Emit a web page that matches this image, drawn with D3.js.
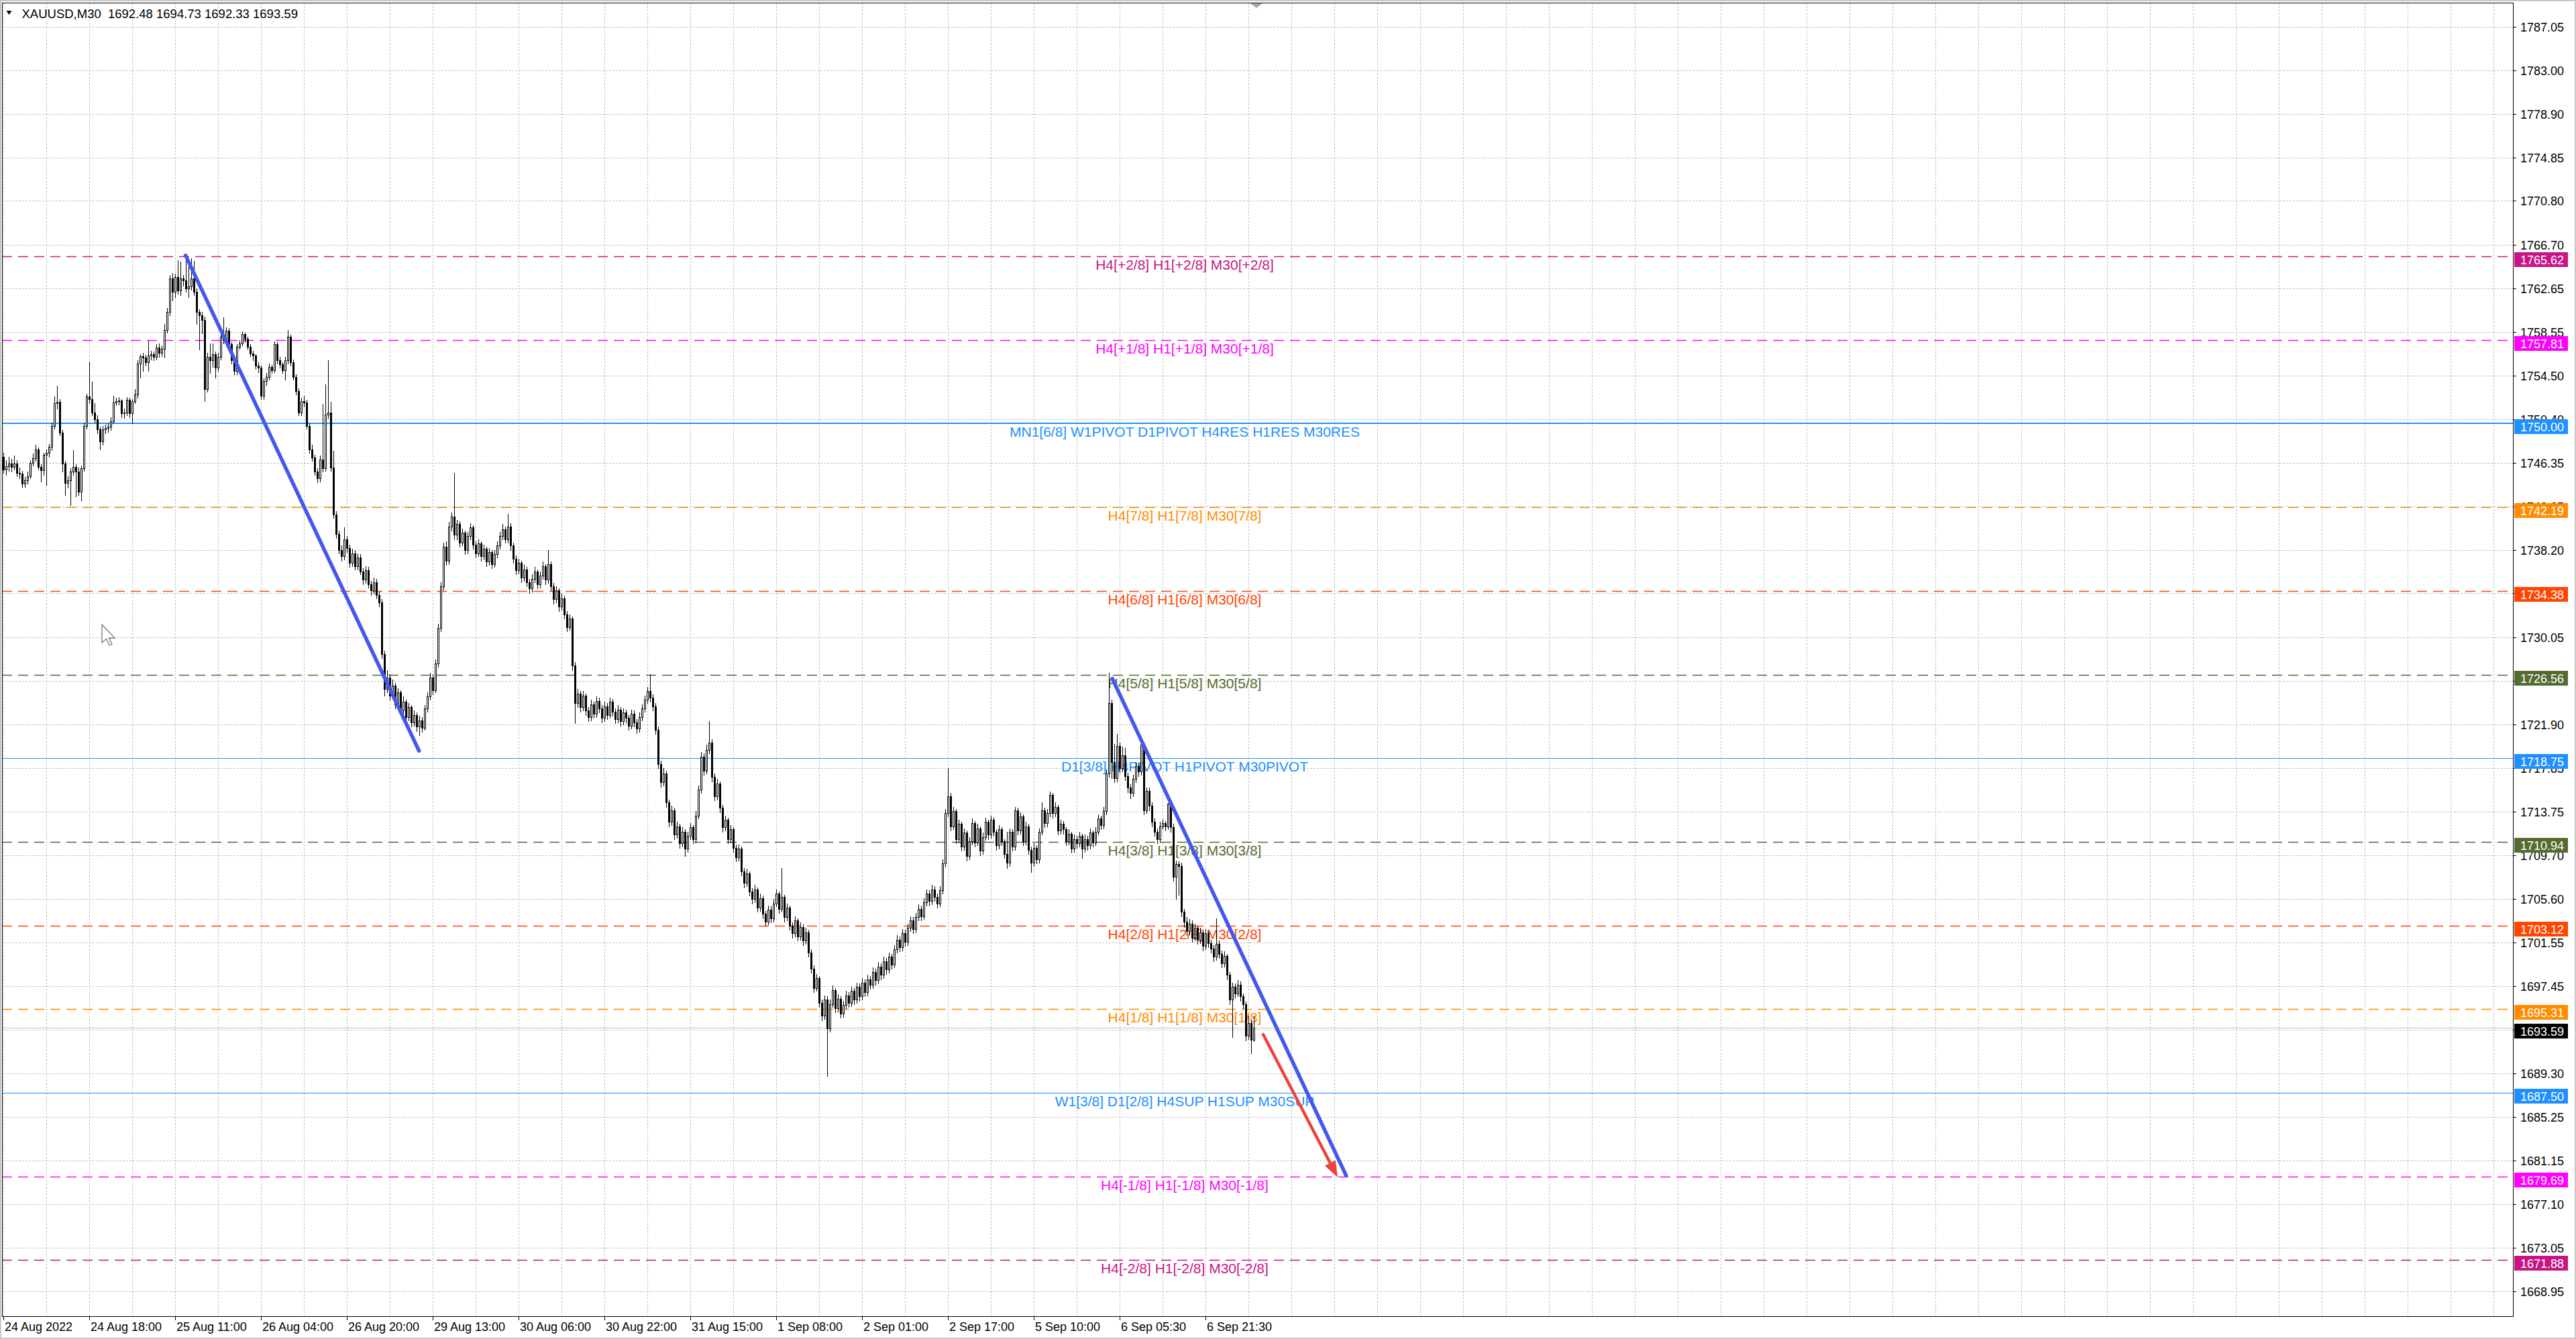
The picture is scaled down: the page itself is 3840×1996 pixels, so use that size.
<!DOCTYPE html>
<html><head><meta charset="utf-8">
<script src="https://cdn.jsdelivr.net/npm/d3@7"></script>
<style>html,body{margin:0;padding:0;background:#fff;overflow:hidden}svg{display:block}</style>
</head><body>
<svg id="chart" width="3840" height="1996"></svg>
<script>
// ---------------- DATA ----------------
const symbolTitle = "XAUUSD,M30";
const lastOHLC = ["1692.48", "1694.73", "1692.33", "1693.59"];

const opens = [
1746.87,1745.72,1746.04,1746.25,1745.93,1746.25,1745.41,1745.30,1744.37,1744.68,
1745.10,1746.35,1746.77,1747.60,1745.93,1745.62,1747.08,1747.29,1747.81,1749.80,
1751.88,1752.00,1749.17,1746.25,1744.47,1744.68,1745.51,1745.93,1745.50,1743.64,
1745.83,1749.80,1752.51,1752.30,1751.05,1750.42,1749.48,1748.33,1749.48,1749.59,
1749.69,1750.21,1751.99,1752.09,1752.15,1750.94,1751.05,1752.20,1750.94,1752.09,
1752.72,1755.60,1756.27,1756.15,1755.73,1756.36,1756.46,1756.25,1757.09,1756.60,
1757.00,1758.76,1760.43,1763.56,1762.31,1763.67,1762.41,1763.56,1763.35,1762.62,
1762.83,1763.56,1762.31,1760.43,1760.12,1759.70,1753.23,1756.25,1755.94,1756.46,
1755.21,1756.25,1758.13,1757.82,1758.65,1757.40,1755.94,1754.90,1757.19,1757.51,
1758.34,1757.92,1757.19,1756.57,1756.36,1755.42,1755.21,1752.60,1753.96,1754.37,
1755.31,1755.00,1757.40,1755.94,1755.52,1755.00,1755.90,1758.13,1755.73,1754.37,
1753.02,1751.03,1752.08,1751.97,1749.78,1747.59,1746.86,1745.50,1744.87,1746.65,
1745.81,1750.82,1751.03,1745.92,1741.50,1739.70,1738.20,1737.60,1739.20,1738.40,
1737.00,1737.90,1736.70,1737.50,1736.20,1735.40,1736.30,1735.00,1734.40,1735.20,
1734.00,1733.30,1728.50,1725.20,1726.30,1724.60,1725.50,1723.80,1724.90,1723.20,
1724.00,1722.60,1723.50,1722.10,1722.80,1721.70,1722.30,1721.60,1723.40,1724.50,
1726.30,1725.10,1727.60,1730.90,1734.80,1738.50,1737.20,1740.40,1741.30,1739.60,
1740.60,1738.90,1739.80,1738.20,1739.50,1740.30,1738.70,1737.90,1738.80,1737.60,
1738.30,1737.10,1738.00,1736.90,1737.80,1738.60,1739.50,1740.10,1739.20,1740.40,
1738.60,1737.40,1736.30,1737.00,1735.60,1736.40,1735.20,1734.60,1735.50,1736.20,
1735.00,1735.80,1736.70,1735.40,1736.90,1734.80,1733.60,1734.40,1732.90,1733.70,
1732.20,1731.00,1731.80,1727.40,1723.90,1724.80,1723.50,1724.60,1723.20,1722.60,
1723.80,1722.90,1724.10,1723.40,1722.50,1723.60,1722.80,1724.00,1723.10,1722.40,
1723.30,1722.20,1723.00,1722.50,1721.80,1722.90,1722.10,1721.50,1722.60,1723.40,
1724.20,1725.00,1724.40,1723.60,1721.40,1718.20,1716.50,1717.30,1714.60,1712.80,
1713.90,1711.60,1712.40,1710.80,1711.90,1710.30,1711.50,1712.30,1711.20,1713.40,
1715.80,1718.90,1717.60,1719.50,1720.20,1717.00,1715.20,1716.40,1714.10,1712.30,
1713.00,1711.20,1712.10,1710.40,1709.50,1710.30,1708.20,1707.10,1708.00,1706.30,
1705.60,1706.50,1704.80,1705.70,1704.20,1703.50,1704.60,1703.80,1705.20,1706.10,
1704.70,1705.80,1703.90,1704.80,1703.10,1702.40,1703.60,1702.10,1703.00,1701.70,
1702.50,1700.60,1699.10,1697.30,1698.20,1695.90,1694.70,1696.20,1693.50,1695.80,
1697.10,1695.40,1696.30,1694.90,1695.70,1696.60,1695.90,1697.00,1696.20,1697.40,
1696.50,1697.80,1696.90,1698.10,1697.60,1698.80,1698.00,1699.30,1698.50,1699.80,
1699.00,1700.20,1699.50,1700.90,1701.80,1701.10,1702.40,1701.60,1702.90,1703.60,
1702.80,1703.90,1704.70,1704.00,1705.30,1706.10,1705.40,1706.50,1705.80,1705.20,
1706.40,1708.90,1713.60,1715.20,1712.40,1713.80,1711.20,1712.60,1710.50,1711.80,
1709.60,1711.00,1712.70,1710.90,1712.20,1710.10,1711.40,1712.80,1711.60,1713.00,
1711.90,1710.60,1712.10,1711.00,1709.80,1709.00,1711.90,1710.50,1713.90,1712.00,
1713.30,1711.00,1712.40,1710.20,1709.00,1710.40,1709.30,1711.90,1713.90,1712.70,
1713.60,1715.30,1713.60,1714.20,1712.00,1712.60,1712.10,1711.00,1711.70,1710.30,
1711.20,1710.80,1711.50,1710.30,1711.20,1710.60,1711.80,1710.90,1711.90,1713.10,
1712.50,1713.80,1717.30,1723.90,1718.40,1716.90,1719.90,1717.80,1719.00,1717.10,
1716.00,1715.50,1716.80,1718.00,1717.50,1720.00,1713.90,1715.70,1714.30,1712.80,
1711.90,1711.20,1712.40,1712.70,1712.40,1714.50,1712.30,1707.70,1708.85,1708.70,
1704.40,1703.50,1702.60,1703.30,1702.00,1702.90,1701.80,1702.50,1701.20,1702.40,
1701.50,1701.00,1700.20,1701.40,1700.50,1699.60,1700.30,1698.50,1696.20,1697.40,
1696.80,1697.60,1696.50,1695.80,1692.80,1694.00,1692.48];

const highs = [
1747.30,1746.60,1746.90,1746.70,1747.00,1746.60,1745.90,1745.60,1745.00,1745.50,
1746.60,1747.20,1748.02,1747.80,1746.20,1747.30,1747.60,1748.10,1750.10,1752.51,
1753.55,1752.30,1749.40,1746.50,1745.10,1745.80,1747.50,1746.20,1745.90,1746.10,
1750.10,1752.80,1755.81,1753.90,1751.90,1750.80,1749.70,1749.80,1749.90,1750.00,
1750.60,1752.61,1752.40,1752.50,1752.30,1751.40,1752.50,1752.40,1752.30,1753.20,
1755.90,1756.50,1756.60,1756.40,1757.71,1756.80,1756.70,1757.40,1757.50,1757.30,
1759.28,1760.80,1763.90,1764.08,1764.00,1765.23,1765.10,1763.90,1765.65,1764.70,
1765.45,1765.20,1762.60,1760.70,1760.40,1760.00,1756.60,1757.50,1757.50,1756.70,
1756.60,1758.40,1759.90,1759.00,1758.90,1757.60,1756.20,1757.40,1757.80,1758.60,
1758.50,1758.10,1757.40,1756.80,1756.50,1755.70,1755.40,1754.20,1754.70,1755.60,
1755.50,1757.70,1757.60,1756.20,1755.70,1756.20,1758.76,1758.30,1756.00,1754.60,
1753.30,1752.40,1752.60,1752.20,1750.00,1748.00,1747.10,1745.80,1747.00,1751.87,
1753.64,1755.90,1752.00,1747.48,1741.80,1740.00,1738.60,1740.30,1739.50,1738.70,
1738.30,1738.20,1737.90,1737.80,1736.50,1736.70,1736.60,1735.30,1735.60,1735.50,
1734.30,1733.60,1728.80,1727.00,1726.60,1726.10,1725.80,1725.30,1725.10,1724.50,
1724.20,1723.90,1723.70,1723.20,1723.00,1722.70,1722.60,1723.70,1724.90,1726.70,
1726.60,1728.00,1731.30,1735.20,1738.90,1739.00,1740.80,1741.70,1745.40,1741.00,
1740.90,1740.20,1740.00,1739.90,1740.70,1740.50,1739.00,1739.20,1739.00,1738.70,
1738.50,1738.40,1738.20,1738.20,1739.00,1739.90,1740.60,1740.40,1741.60,1740.70,
1738.90,1737.70,1737.40,1737.20,1736.80,1736.60,1735.50,1735.90,1736.60,1736.40,
1736.20,1737.10,1736.90,1738.20,1737.10,1735.10,1734.80,1734.60,1734.10,1733.90,
1732.50,1732.20,1732.00,1727.70,1725.20,1725.00,1725.00,1724.80,1723.50,1724.20,
1724.00,1724.50,1724.40,1723.70,1724.00,1723.90,1724.40,1724.30,1723.40,1723.70,
1723.50,1723.40,1723.30,1722.80,1723.30,1723.20,1722.40,1723.00,1723.80,1724.60,
1725.40,1726.60,1724.70,1723.90,1721.70,1718.50,1717.80,1717.60,1714.90,1714.30,
1714.10,1712.80,1712.60,1712.30,1712.10,1711.90,1712.70,1712.50,1713.80,1716.20,
1719.30,1719.20,1720.00,1722.20,1720.50,1717.30,1716.80,1716.60,1714.40,1713.40,
1713.20,1712.50,1712.30,1710.70,1710.70,1710.50,1708.50,1708.40,1708.20,1706.60,
1706.90,1706.70,1706.10,1705.90,1704.50,1705.00,1704.90,1705.60,1706.50,1706.30,
1708.50,1706.00,1705.20,1705.00,1703.40,1704.00,1703.80,1703.40,1703.20,1702.90,
1702.70,1700.90,1699.40,1698.60,1698.40,1696.20,1696.60,1696.50,1696.20,1697.50,
1697.30,1696.70,1696.50,1696.10,1697.00,1696.90,1697.40,1697.30,1697.80,1697.70,
1698.20,1698.10,1698.50,1698.40,1699.20,1699.10,1699.70,1699.60,1700.20,1700.10,
1700.60,1700.50,1701.30,1702.20,1702.10,1702.80,1702.70,1703.30,1704.00,1703.90,
1704.30,1705.10,1705.00,1705.70,1706.50,1706.40,1706.90,1706.80,1706.10,1706.80,
1709.30,1714.00,1717.80,1715.50,1714.20,1714.00,1713.00,1712.80,1712.20,1712.00,
1711.40,1713.10,1712.90,1712.60,1712.40,1711.80,1713.20,1713.00,1713.40,1713.20,
1712.10,1712.50,1712.30,1711.20,1711.90,1712.20,1712.10,1714.20,1714.10,1713.70,
1713.50,1712.80,1712.60,1710.50,1710.80,1710.60,1712.20,1714.60,1714.10,1714.00,
1715.64,1715.50,1714.60,1714.40,1713.00,1712.90,1712.30,1712.10,1711.90,1711.60,
1711.50,1711.90,1711.70,1711.60,1711.50,1712.20,1712.00,1712.30,1713.50,1713.40,
1714.20,1717.70,1726.70,1724.20,1720.10,1721.00,1720.20,1719.80,1719.70,1717.40,
1716.30,1717.20,1718.40,1718.30,1720.20,1720.13,1716.00,1716.00,1714.60,1713.10,
1712.20,1712.80,1713.00,1712.90,1714.59,1714.70,1712.60,1709.20,1709.10,1709.00,
1704.70,1703.90,1703.70,1703.60,1703.30,1703.10,1702.90,1702.70,1702.80,1702.60,
1701.80,1701.30,1703.80,1701.70,1700.80,1700.70,1700.50,1698.80,1697.80,1697.70,
1698.00,1697.90,1696.80,1696.00,1694.70,1694.30,1694.73];

const lows = [
1745.40,1745.20,1745.60,1745.50,1745.70,1745.10,1744.90,1744.05,1744.10,1744.40,
1744.90,1746.10,1746.50,1745.70,1744.57,1745.20,1744.26,1746.90,1747.50,1749.50,
1751.40,1748.90,1745.51,1743.32,1744.00,1742.38,1745.20,1743.22,1743.30,1742.80,
1745.60,1749.50,1751.90,1750.80,1750.10,1749.10,1747.60,1748.00,1749.10,1749.20,
1749.40,1750.00,1751.70,1751.80,1750.60,1750.50,1750.80,1750.60,1750.00,1751.90,
1752.40,1754.29,1754.90,1755.40,1754.90,1756.00,1755.90,1756.00,1756.20,1756.30,
1756.15,1758.50,1760.10,1761.50,1761.80,1762.10,1762.00,1762.90,1762.30,1761.80,
1762.50,1762.00,1759.28,1756.90,1758.40,1752.08,1753.00,1754.70,1755.30,1754.27,
1754.90,1756.00,1757.50,1757.50,1757.10,1755.60,1754.60,1754.60,1757.00,1757.30,
1757.60,1756.90,1756.30,1755.90,1755.10,1754.80,1752.29,1752.30,1753.60,1754.10,
1754.70,1754.80,1755.60,1755.20,1754.70,1754.10,1755.60,1755.40,1754.10,1752.70,
1750.80,1750.80,1751.60,1749.50,1747.30,1746.50,1745.20,1744.50,1744.60,1745.50,
1745.60,1750.50,1745.60,1741.20,1739.30,1737.90,1737.20,1737.30,1738.00,1736.60,
1736.70,1736.40,1736.40,1735.90,1735.00,1735.10,1734.70,1734.00,1734.10,1733.70,
1732.90,1728.10,1724.60,1724.90,1724.20,1724.30,1723.40,1723.50,1722.80,1722.90,
1722.20,1722.30,1721.70,1721.80,1721.30,1720.90,1721.20,1721.40,1723.10,1724.20,
1724.70,1724.90,1727.30,1730.60,1734.50,1736.80,1736.90,1740.00,1739.20,1739.20,
1738.50,1738.60,1737.80,1737.90,1739.20,1738.30,1737.50,1737.60,1737.20,1737.30,
1736.70,1736.80,1736.50,1736.60,1737.50,1738.30,1739.20,1738.90,1738.90,1738.20,
1737.00,1735.90,1736.00,1735.20,1735.30,1734.80,1734.20,1734.30,1735.20,1734.60,
1734.70,1735.50,1735.00,1735.10,1734.40,1733.20,1733.30,1732.50,1732.60,1731.80,
1730.60,1730.70,1727.00,1722.00,1723.50,1723.10,1723.20,1722.80,1722.20,1722.30,
1722.50,1722.60,1723.00,1722.10,1722.20,1722.40,1722.50,1722.70,1722.00,1722.10,
1721.80,1721.90,1722.10,1721.40,1721.50,1721.70,1721.10,1721.20,1722.30,1723.10,
1723.90,1724.00,1723.20,1721.00,1717.80,1716.10,1716.20,1714.20,1712.40,1712.50,
1711.20,1711.30,1710.40,1710.50,1709.60,1710.00,1711.20,1710.80,1710.90,1713.10,
1715.50,1717.20,1717.30,1719.20,1716.60,1714.80,1714.90,1713.70,1711.90,1712.00,
1710.80,1710.90,1710.00,1709.10,1709.20,1707.80,1706.70,1706.80,1705.90,1705.20,
1705.30,1704.40,1704.50,1703.80,1703.10,1703.20,1703.40,1703.50,1704.90,1704.30,
1704.40,1703.50,1703.60,1702.70,1702.00,1702.10,1701.70,1701.80,1701.30,1701.40,
1700.20,1698.70,1696.90,1697.00,1695.50,1694.30,1694.40,1689.10,1693.20,1695.50,
1695.00,1695.10,1694.50,1694.60,1695.40,1695.50,1695.60,1695.80,1695.90,1696.10,
1696.20,1696.50,1696.60,1697.20,1697.30,1697.60,1697.70,1698.10,1698.20,1698.60,
1698.70,1699.10,1699.20,1700.60,1700.70,1700.80,1701.20,1701.30,1702.60,1702.40,
1702.50,1703.60,1703.60,1703.70,1705.00,1705.00,1705.10,1705.40,1704.80,1704.90,
1706.10,1708.60,1713.30,1712.00,1712.10,1710.80,1710.90,1710.10,1710.20,1709.20,
1709.30,1710.70,1710.50,1710.60,1709.70,1709.80,1711.10,1711.20,1711.30,1711.50,
1710.20,1710.30,1710.60,1709.40,1708.50,1708.70,1710.10,1710.20,1711.60,1711.70,
1710.60,1710.70,1709.80,1708.10,1708.70,1708.90,1709.00,1711.60,1712.30,1712.40,
1713.30,1713.20,1713.30,1711.60,1711.70,1711.70,1710.60,1710.70,1709.90,1710.00,
1710.40,1710.50,1709.40,1710.00,1710.20,1710.30,1710.50,1710.60,1711.60,1712.10,
1712.20,1713.50,1717.00,1716.90,1716.50,1716.60,1717.40,1717.50,1716.70,1715.60,
1715.01,1715.20,1716.50,1717.10,1717.20,1713.50,1713.60,1713.90,1712.40,1711.50,
1710.80,1710.90,1712.10,1712.00,1712.10,1711.90,1707.30,1705.60,1706.00,1704.00,
1703.00,1702.20,1702.30,1701.60,1701.70,1701.40,1701.50,1700.80,1700.90,1701.10,
1700.60,1699.80,1699.90,1700.10,1699.20,1699.30,1698.10,1695.80,1692.70,1696.40,
1696.50,1696.10,1695.40,1692.40,1692.50,1691.20,1692.33];

const closes = [
1745.72,1746.04,1746.25,1745.93,1746.25,1745.41,1745.30,1744.37,1744.68,1745.10,
1746.35,1746.77,1747.60,1745.93,1745.62,1747.08,1747.29,1747.81,1749.80,1751.88,
1752.00,1749.17,1746.25,1744.47,1744.68,1745.51,1745.93,1745.50,1743.64,1745.83,
1749.80,1752.51,1752.30,1751.05,1750.42,1749.48,1748.33,1749.48,1749.59,1749.69,
1750.21,1751.99,1752.09,1752.15,1750.94,1751.05,1752.20,1750.94,1752.09,1752.72,
1755.60,1756.27,1756.15,1755.73,1756.36,1756.46,1756.25,1757.09,1756.60,1757.00,
1758.76,1760.43,1763.56,1762.31,1763.67,1762.41,1763.56,1763.35,1762.62,1762.83,
1763.56,1762.31,1760.43,1760.12,1759.70,1753.23,1756.25,1755.94,1756.46,1755.21,
1756.25,1758.13,1757.82,1758.65,1757.40,1755.94,1754.90,1757.19,1757.51,1758.34,
1757.92,1757.19,1756.57,1756.36,1755.42,1755.21,1752.60,1753.96,1754.37,1755.31,
1755.00,1757.40,1755.94,1755.52,1755.00,1755.90,1758.13,1755.73,1754.37,1753.02,
1751.03,1752.08,1751.97,1749.78,1747.59,1746.86,1745.50,1744.87,1746.65,1745.81,
1750.82,1751.03,1745.92,1741.50,1739.70,1738.20,1737.60,1739.20,1738.40,1737.00,
1737.90,1736.70,1737.50,1736.20,1735.40,1736.30,1735.00,1734.40,1735.20,1734.00,
1733.30,1728.50,1725.20,1726.30,1724.60,1725.50,1723.80,1724.90,1723.20,1724.00,
1722.60,1723.50,1722.10,1722.80,1721.70,1722.30,1721.60,1723.40,1724.50,1726.30,
1725.10,1727.60,1730.90,1734.80,1738.50,1737.20,1740.40,1741.30,1739.60,1740.60,
1738.90,1739.80,1738.20,1739.50,1740.30,1738.70,1737.90,1738.80,1737.60,1738.30,
1737.10,1738.00,1736.90,1737.80,1738.60,1739.50,1740.10,1739.20,1740.40,1738.60,
1737.40,1736.30,1737.00,1735.60,1736.40,1735.20,1734.60,1735.50,1736.20,1735.00,
1735.80,1736.70,1735.40,1736.90,1734.80,1733.60,1734.40,1732.90,1733.70,1732.20,
1731.00,1731.80,1727.40,1723.90,1724.80,1723.50,1724.60,1723.20,1722.60,1723.80,
1722.90,1724.10,1723.40,1722.50,1723.60,1722.80,1724.00,1723.10,1722.40,1723.30,
1722.20,1723.00,1722.50,1721.80,1722.90,1722.10,1721.50,1722.60,1723.40,1724.20,
1725.00,1724.40,1723.60,1721.40,1718.20,1716.50,1717.30,1714.60,1712.80,1713.90,
1711.60,1712.40,1710.80,1711.90,1710.30,1711.50,1712.30,1711.20,1713.40,1715.80,
1718.90,1717.60,1719.50,1720.20,1717.00,1715.20,1716.40,1714.10,1712.30,1713.00,
1711.20,1712.10,1710.40,1709.50,1710.30,1708.20,1707.10,1708.00,1706.30,1705.60,
1706.50,1704.80,1705.70,1704.20,1703.50,1704.60,1703.80,1705.20,1706.10,1704.70,
1705.80,1703.90,1704.80,1703.10,1702.40,1703.60,1702.10,1703.00,1701.70,1702.50,
1700.60,1699.10,1697.30,1698.20,1695.90,1694.70,1696.20,1693.50,1695.80,1697.10,
1695.40,1696.30,1694.90,1695.70,1696.60,1695.90,1697.00,1696.20,1697.40,1696.50,
1697.80,1696.90,1698.10,1697.60,1698.80,1698.00,1699.30,1698.50,1699.80,1699.00,
1700.20,1699.50,1700.90,1701.80,1701.10,1702.40,1701.60,1702.90,1703.60,1702.80,
1703.90,1704.70,1704.00,1705.30,1706.10,1705.40,1706.50,1705.80,1705.20,1706.40,
1708.90,1713.60,1715.20,1712.40,1713.80,1711.20,1712.60,1710.50,1711.80,1709.60,
1711.00,1712.70,1710.90,1712.20,1710.10,1711.40,1712.80,1711.60,1713.00,1711.90,
1710.60,1712.10,1711.00,1709.80,1709.00,1711.90,1710.50,1713.90,1712.00,1713.30,
1711.00,1712.40,1710.20,1709.00,1710.40,1709.30,1711.90,1713.90,1712.70,1713.60,
1715.30,1713.60,1714.20,1712.00,1712.60,1712.10,1711.00,1711.70,1710.30,1711.20,
1710.80,1711.50,1710.30,1711.20,1710.60,1711.80,1710.90,1711.90,1713.10,1712.50,
1713.80,1717.30,1723.90,1718.40,1716.90,1719.90,1717.80,1719.00,1717.10,1716.00,
1715.50,1716.80,1718.00,1717.50,1720.00,1713.90,1715.70,1714.30,1712.80,1711.90,
1711.20,1712.40,1712.70,1712.40,1714.50,1712.30,1707.70,1708.85,1708.70,1704.40,
1703.50,1702.60,1703.30,1702.00,1702.90,1701.80,1702.50,1701.20,1702.40,1701.50,
1701.00,1700.20,1701.40,1700.50,1699.60,1700.30,1698.50,1696.20,1697.40,1696.80,
1697.60,1696.50,1695.80,1692.80,1694.00,1692.48,1693.59];

const timeLabels = ["24 Aug 2022","24 Aug 18:00","25 Aug 11:00","26 Aug 04:00","26 Aug 20:00",
  "29 Aug 13:00","30 Aug 06:00","30 Aug 22:00","31 Aug 15:00","1 Sep 08:00","2 Sep 01:00",
  "2 Sep 17:00","5 Sep 10:00","6 Sep 05:30","6 Sep 21:30"];
const timeLabelBars = [0,32,64,96,128,160,192,224,256,288,320,352,384,416,448];

const priceTicks = [1787.05,1783.00,1778.90,1774.85,1770.80,1766.70,1762.65,1758.55,1754.50,
  1750.40,1746.35,1742.25,1738.20,1734.15,1730.05,1726.00,1721.90,1717.85,1713.75,1709.70,
  1705.60,1701.55,1697.45,1693.40,1689.30,1685.25,1681.15,1677.10,1673.05,1668.95];

const levelPrices = [1765.62,1757.81,1750.00,1742.19,1734.38,1726.56,1718.75,1710.94,1703.12,
  1695.31,1687.50,1679.69,1671.88];
const levelTexts = [
  "H4[+2/8] H1[+2/8] M30[+2/8]",
  "H4[+1/8] H1[+1/8] M30[+1/8]",
  "MN1[6/8] W1PIVOT D1PIVOT H4RES H1RES M30RES",
  "H4[7/8] H1[7/8] M30[7/8]",
  "H4[6/8] H1[6/8] M30[6/8]",
  "H4[5/8] H1[5/8] M30[5/8]",
  "D1[3/8] H4PIVOT H1PIVOT M30PIVOT",
  "H4[3/8] H1[3/8] M30[3/8]",
  "H4[2/8] H1[2/8] M30[2/8]",
  "H4[1/8] H1[1/8] M30[1/8]",
  "W1[3/8] D1[2/8] H4SUP H1SUP M30SUP",
  "H4[-1/8] H1[-1/8] M30[-1/8]",
  "H4[-2/8] H1[-2/8] M30[-2/8]"];
const levelLabelBar = 440.25;
const currentPrice = 1693.59;

// drawn trend lines: start/end as (bar, price)
const trendStartBars = [67.9, 413.25];
const trendStartPrices = [1765.71, 1726.19];
const trendEndBars = [154.9, 500.4];
const trendEndPrices = [1719.44, 1679.78];
const arrowFrom = [469.5, 1692.95];
const arrowTo = [497.25, 1679.61];

// ---------------- STYLE ----------------
const levelColors = ["#C71585","#FF00FF","#1E90FF","#FF8C00","#FF4500","#556B2F","#1E90FF",
  "#556B2F","#FF4500","#FF8C00","#1E90FF","#FF00FF","#C71585"];
const levelSolid = [false,false,true,false,false,false,true,false,false,false,true,false,false];
const levelWidth = [1.5,1.5,2,1.5,1.5,1.5,1,1.5,1.5,1.5,1,1.5,1.5];
const AXIS_FONT = "'Liberation Sans', Arial, sans-serif";

// ---------------- DRAW ----------------
const W = 3840, H = 1996;
const PL = 3, PT = 4, PR = 3746, PB = 1962;
const svg = d3.select('#chart');
const X = d3.scaleLinear().domain([0, 935.25]).range([5, 3746]);
const Y = d3.scaleLinear().domain([1666.641, 1789.307]).range([PB, PT]);

svg.append('rect').attr('width', W).attr('height', H).attr('fill', '#fff');
svg.append('defs').append('clipPath').attr('id', 'clip')
  .append('rect').attr('x', PL).attr('y', PT).attr('width', PR - PL).attr('height', PB - PT);
const plot = svg.append('g').attr('clip-path', 'url(#clip)');

// grid
const grid = plot.append('g').attr('shape-rendering', 'crispEdges')
  .attr('stroke', '#c2c2c2').attr('stroke-width', 1).attr('stroke-dasharray', '3,2');
grid.selectAll('line.hg').data(priceTicks).join('line').attr('class', 'hg')
  .attr('x1', PL).attr('x2', PR)
  .attr('y1', d => Math.round(Y(d)) + 0.5).attr('y2', d => Math.round(Y(d)) + 0.5);
const vBars = d3.range(0, 936, 16);
grid.selectAll('line.vg').data(vBars).join('line').attr('class', 'vg')
  .attr('y1', PT).attr('y2', PB)
  .attr('x1', d => Math.round(X(d)) + 0.5).attr('x2', d => Math.round(X(d)) + 0.5);

// current price line
plot.append('line').attr('x1', PL).attr('x2', PR)
  .attr('y1', Math.round(Y(currentPrice)) + 0.5).attr('y2', Math.round(Y(currentPrice)) + 0.5)
  .attr('stroke', '#c0c0c0').attr('stroke-width', 1).attr('shape-rendering', 'crispEdges');

// level lines
const levels = levelPrices.map((p, i) => ({p, i, text: levelTexts[i], color: levelColors[i], solid: levelSolid[i], w: levelWidth[i]}));
plot.append('g').selectAll('line').data(levels).join('line')
  .attr('x1', PL).attr('x2', PR)
  .attr('y1', d => d.w === 2 ? Math.round(Y(d.p)) : Math.round(Y(d.p)) + 0.5)
  .attr('y2', d => d.w === 2 ? Math.round(Y(d.p)) : Math.round(Y(d.p)) + 0.5)
  .attr('stroke', d => d.color).attr('stroke-width', d => d.w)
  .attr('stroke-dasharray', d => d.solid ? null : '15,9');

// level texts
plot.append('g').selectAll('text').data(levels).join('text')
  .attr('x', X(levelLabelBar)).attr('y', d => Y(d.p) + 20)
  .attr('text-anchor', 'middle').attr('fill', d => d.color)
  .attr('font-family', "'Liberation Sans', Arial, sans-serif").attr('font-size', 21)
  .text(d => d.text);

// candles
const bars = closes.map((c, i) => ({i, o: opens[i], h: highs[i], l: lows[i], c}));
const cg = plot.append('g').attr('shape-rendering', 'crispEdges');
cg.selectAll('line').data(bars).join('line')
  .attr('x1', d => Math.round(X(d.i)) + 0.5).attr('x2', d => Math.round(X(d.i)) + 0.5)
  .attr('y1', d => Math.round(Y(d.h))).attr('y2', d => Math.round(Y(d.l)) + 1)
  .attr('stroke', '#000').attr('stroke-width', 1);
cg.selectAll('rect').data(bars).join('rect')
  .each(function(d) {
    const cx = Math.round(X(d.i));
    const yo = Math.round(Y(d.o)), yc = Math.round(Y(d.c));
    const el = d3.select(this);
    if (d.c > d.o) {
      el.attr('x', cx - 0.5).attr('width', 2)
        .attr('y', yc + 0.5).attr('height', Math.max(yo - yc, 1))
        .attr('fill', '#fff').attr('stroke', '#000').attr('stroke-width', 1);
    } else {
      el.attr('x', cx - 1).attr('width', 3)
        .attr('y', yo).attr('height', Math.max(yc - yo, 1) + 1)
        .attr('fill', '#000');
    }
  });

// trend lines
const trends = trendStartBars.map((b, i) => ({x1: X(b), y1: Y(trendStartPrices[i]), x2: X(trendEndBars[i]), y2: Y(trendEndPrices[i])}));
plot.append('g').selectAll('line').data(trends).join('line')
  .attr('x1', d => d.x1).attr('y1', d => d.y1).attr('x2', d => d.x2).attr('y2', d => d.y2)
  .attr('stroke', '#4358EE').attr('stroke-width', 5.5).attr('stroke-linecap', 'round');

// red arrow
(function() {
  const x1 = X(arrowFrom[0]), y1 = Y(arrowFrom[1]), x2 = X(arrowTo[0]), y2 = Y(arrowTo[1]);
  const dx = x2 - x1, dy = y2 - y1, len = Math.hypot(dx, dy);
  const ux = dx / len, uy = dy / len, hl = 24, hw = 9;
  const bx = x2 - ux * hl, by = y2 - uy * hl;
  plot.append('line').attr('x1', x1).attr('y1', y1).attr('x2', bx + ux * 2).attr('y2', by + uy * 2)
    .attr('stroke', '#EF4137').attr('stroke-width', 4.5).attr('stroke-linecap', 'round');
  plot.append('path')
    .attr('d', `M${x2},${y2}L${bx - uy * hw},${by + ux * hw}L${bx + uy * hw},${by - ux * hw}Z`)
    .attr('fill', '#EF4137');
})();

// frame
svg.append('rect').attr('x', PL + 0.5).attr('y', PT + 0.5).attr('width', PR - PL).attr('height', PB - PT)
  .attr('fill', 'none').attr('stroke', '#000').attr('stroke-width', 1).attr('shape-rendering', 'crispEdges');

// right price axis
const ax = svg.append('g').attr('font-family', AXIS_FONT).attr('font-size', 18);
ax.selectAll('line.pt').data(priceTicks).join('line').attr('class', 'pt')
  .attr('x1', PR).attr('x2', PR + 5)
  .attr('y1', d => Math.round(Y(d)) + 0.5).attr('y2', d => Math.round(Y(d)) + 0.5)
  .attr('stroke', '#000').attr('shape-rendering', 'crispEdges');
ax.selectAll('text.pl').data(priceTicks).join('text').attr('class', 'pl')
  .attr('x', 3757).attr('y', d => Math.round(Y(d)) + 7)
  .attr('fill', '#000').text(d => d3.format('.2f')(d));

// level price boxes
const boxes = levels.map(d => ({p: d.p, color: d.color, fg: '#fff'}))
  .concat([{p: currentPrice, color: '#000', fg: '#fff'}]);
const bx = ax.append('g');
bx.selectAll('rect').data(boxes).join('rect')
  .attr('x', 3748).attr('width', 80)
  .attr('y', d => Math.round(Y(d.p)) - 6).attr('height', 22)
  .attr('fill', d => d.color);
bx.selectAll('text').data(boxes).join('text')
  .attr('x', 3757).attr('y', d => Math.round(Y(d.p)) + 11.5)
  .attr('fill', d => d.fg).text(d => d3.format('.2f')(d.p));

// bottom time axis
const tx = svg.append('g').attr('font-family', AXIS_FONT).attr('font-size', 18);
const tl = timeLabelBars.map((b, i) => ({b, t: timeLabels[i]}));
tx.selectAll('line').data(tl).join('line')
  .attr('x1', d => Math.round(X(d.b)) + 0.5).attr('x2', d => Math.round(X(d.b)) + 0.5)
  .attr('y1', PB).attr('y2', PB + 6).attr('stroke', '#000').attr('shape-rendering', 'crispEdges');
tx.selectAll('text').data(tl).join('text')
  .attr('x', d => X(d.b) + 2).attr('y', 1984).attr('fill', '#000').text(d => d.t);

// header
svg.append('path').attr('d', 'M9.5,16L17.5,16L13.5,22Z').attr('fill', '#000');
svg.append('text').attr('x', 32.5).attr('y', 26.5)
  .attr('font-family', AXIS_FONT).attr('font-size', 18.5).attr('fill', '#000')
  .style('white-space', 'pre')
  .text(symbolTitle + '  ' + lastOHLC.join(' '));

// chart shift marker
svg.append('path').attr('d', 'M1864,5L1882,5L1873,12Z').attr('fill', '#a8a8a8');

// mouse cursor
svg.append('path')
  .attr('d', 'M0,0L0,27L6.5,21L11,31L15,29.5L10.5,20L19,20Z')
  .attr('transform', 'translate(152,931)')
  .attr('fill', '#fff').attr('stroke', '#777').attr('stroke-width', 1.3);

// window border
svg.append('rect').attr('x', 1).attr('y', 1).attr('width', W - 2).attr('height', H - 2)
  .attr('fill', 'none').attr('stroke', '#c8c8c8').attr('stroke-width', 2);
</script>
</body></html>
